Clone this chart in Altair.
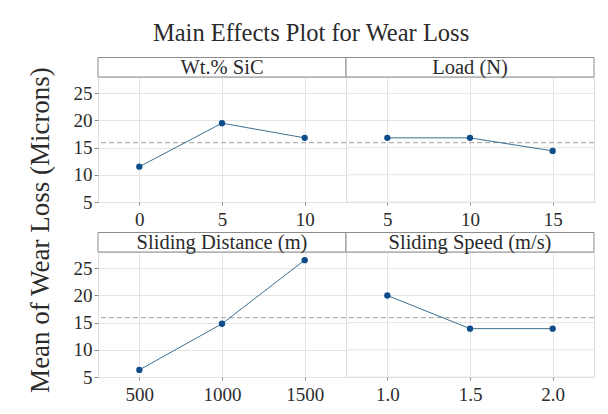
import altair as alt
import pandas as pd

# ---- data -------------------------------------------------------------
factors = ["Wt.% SiC", "Load (N)", "Sliding Distance (m)", "Sliding Speed (m/s)"]
levels = [["0", "5", "10"], ["5", "10", "15"], ["500", "1000", "1500"], ["1.0", "1.5", "2.0"]]
means = [[11.5, 19.5, 16.8], [16.8, 16.8, 14.4], [6.3, 14.8, 26.5], [20.0, 13.9, 13.9]]
grand_mean = [15.93]
y_ticks = [5, 10, 15, 20, 25]
y_title = "Mean of Wear Loss (Microns)"
chart_title = "Main Effects Plot for Wear Loss"

# ---- style ------------------------------------------------------------
W, H = 248, 125
STRIP = 19.5
FONT = "Liberation Serif"
FRAME = "#8c8c8c"
GRID = "#e4e4e4"
LINE_C = "#3d6f91"
PT_C = "#0d4d8a"
TXT = "#2b2b2b"


def panel(i, show_y):
    df = pd.DataFrame({"level": levels[i], "mean": means[i]})
    xenc = alt.X(
        "level:O",
        sort=levels[i],
        scale=alt.Scale(type="point", padding=0.5),
        axis=alt.Axis(
            title=None, labelAngle=0, grid=True, gridColor=GRID, domain=False,
            ticks=True, tickSize=3, tickColor=FRAME, labelFont=FONT, labelFontSize=19,
            labelColor=TXT, labelPadding=5,
        ),
    )
    yscale = alt.Scale(domain=[5, 28], nice=False, zero=False)
    if show_y:
        yaxis = alt.Axis(
            title=None, values=y_ticks, grid=True, gridColor=GRID,
            domain=False, ticks=True, tickSize=4, tickColor=FRAME, labelFont=FONT,
            labelFontSize=19, labelColor=TXT, labelPadding=2,
        )
        yenc = alt.Y("mean:Q", scale=yscale, axis=yaxis)
    else:
        yenc = alt.Y("mean:Q", scale=yscale, axis=None)

    layers = []
    if not show_y:
        gridlines = (
            alt.Chart(pd.DataFrame({"mean": y_ticks}))
            .mark_rule(color=GRID, strokeWidth=1)
            .encode(y=yenc)
        )
        layers.append(gridlines)

    base = alt.Chart(df)
    line = base.mark_line(color=LINE_C, strokeWidth=1).encode(x=xenc, y=yenc)
    pts = base.mark_circle(size=40, color=PT_C, opacity=1).encode(x=xenc, y=yenc)
    rule = (
        alt.Chart(pd.DataFrame({"mean": grand_mean}))
        .mark_rule(color="#b3b3b3", strokeDash=[5, 3], strokeWidth=1.2)
        .encode(y=yenc)
    )
    sdf = pd.DataFrame({"f": [factors[i]]})
    strip_rect = (
        alt.Chart(sdf)
        .mark_rect(fill="white", stroke=FRAME, strokeWidth=1)
        .encode(x=alt.value(0), x2=alt.value(W), y=alt.value(-STRIP), y2=alt.value(0))
    )
    strip_text = (
        alt.Chart(sdf)
        .mark_text(font=FONT, fontSize=20.5, color=TXT, baseline="alphabetic")
        .encode(x=alt.value(W / 2), y=alt.value(-3), text="f:N")
    )
    layers += [rule, line, pts, strip_rect, strip_text]
    return alt.layer(*layers).properties(width=W, height=H)


top = alt.hconcat(panel(0, True), panel(1, False), spacing=0, bounds="flush")
bottom = alt.hconcat(panel(2, True), panel(3, False), spacing=0, bounds="flush")
grid = alt.vconcat(top, bottom, spacing=1)

ytxt = (
    alt.Chart(pd.DataFrame({"t": [y_title]}))
    .mark_text(angle=270, font=FONT, fontSize=27, color=TXT, baseline="middle")
    .encode(x=alt.value(12), y=alt.value(153), text="t:N")
    .properties(width=24, height=330, view=alt.ViewBackground(strokeOpacity=0))
)

chart = (
    alt.hconcat(ytxt, grid, spacing=17)
    .properties(
        title=alt.TitleParams(
            chart_title, font=FONT, fontSize=24.5, fontWeight="normal", color=TXT,
            anchor="middle", offset=10,
        ),
        padding={"left": 26, "top": 21, "right": 8, "bottom": 8},
    )
    .configure_view(stroke=FRAME, strokeWidth=1)
    .configure(background="white")
)

chart.save("out.html", embed_options={"renderer": "svg", "actions": False})
